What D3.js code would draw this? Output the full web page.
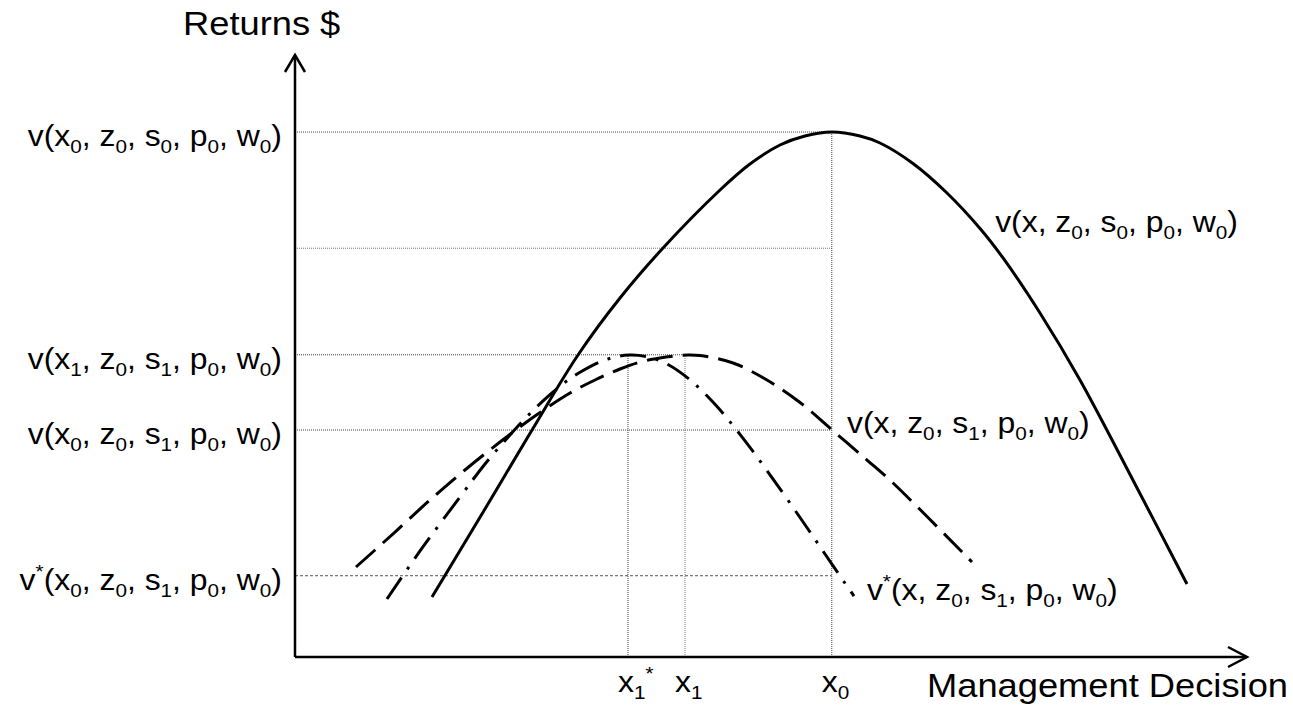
<!DOCTYPE html>
<html>
<head>
<meta charset="utf-8">
<script src="https://cdn.jsdelivr.net/npm/d3@7"></script>
<style>
  body { margin: 0; background: #fff; }
  text { font-family: "Liberation Sans", Arial, sans-serif; fill: #000; }
</style>
</head>
<body>
<script>
// curves, in chart units (x = management decision, y = returns)
var curveS0 = [[14.42, 9.97], [19.68, 23.75], [24.95, 37.71], [29.79, 50.17], [34.21, 59.63],
  [38.74, 67.94], [44.74, 77.57], [47.89, 81.89], [51.05, 85.05], [53.68, 86.54], [56.53, 87.21],
  [59.47, 86.54], [61.58, 85.38], [65.05, 81.98], [68.63, 77.08], [72.11, 71.18], [74.53, 66.28],
  [78.42, 57.14], [82.63, 46.01], [88.42, 28.74], [93.89, 12.13]];
var curveS1 = [[6.42, 14.95], [10.53, 20.76], [14.21, 26.08], [17.89, 31.06], [21.58, 35.71],
  [25.26, 40.03], [28.95, 43.85], [31.58, 46.01], [34.21, 47.84], [36.32, 49.0], [38.42, 49.67],
  [40.0, 50.0], [41.37, 50.17], [42.63, 50.08], [46.11, 48.84], [49.68, 46.01], [53.16, 42.28],
  [56.53, 37.71], [60.21, 32.72], [62.95, 28.9], [71.26, 15.78]];
var curveStar = [[9.68, 9.63], [13.16, 17.61], [17.37, 26.58], [20.0, 32.06], [22.63, 36.88],
  [24.74, 40.45], [26.84, 43.57], [28.42, 45.63], [30.0, 47.29], [32.63, 49.34], [35.16, 50.17],
  [37.37, 49.78], [39.26, 48.59], [41.58, 46.03], [44.21, 41.98], [46.84, 36.99], [50.0, 30.27],
  [53.16, 23.17], [55.79, 17.11], [58.42, 11.05], [58.84, 10.13]];

// reference levels on the returns axis
var yLevels = [87.2, 67.9, 50.2, 37.7, 13.5];
var yLevelEnds = [56.5, 56.5, 41.05, 56.5, 56.5];
var yLabels = ["v(x_0, z_0, s_0, p_0, w_0)", "", "v(x_1, z_0, s_1, p_0, w_0)",
  "v(x_0, z_0, s_1, p_0, w_0)", "v^*(x_0, z_0, s_1, p_0, w_0)"];

// decisions on the x axis
var xMarks = [35.05, 41.05, 56.5];
var xMarkTops = [50.2, 50.2, 87.2];
var xLabels = ["x_1^*", "x_1", "x_0"];

var curveLabels = ["v(x, z_0, s_0, p_0, w_0)", "v(x, z_0, s_1, p_0, w_0)", "v^*(x, z_0, s_1, p_0, w_0)"];
var curveLabelAt = [[73.7, 70.6], [58.1, 37.2], [60.2, 9.5]];

var W = 1293, H = 710;
var ox = 295, oy = 657;
var fs = 29, stretch = 1.1;

var svg = d3.select("body").append("svg")
  .attr("width", W)
  .attr("height", H);

var x = d3.scaleLinear().domain([0, 100]).range([ox, 1245]);
var y = d3.scaleLinear().domain([0, 100]).range([oy, 55]);

// text with _ subscripts and ^ superscripts
function richText(t, str, size) {
  var off = 0, i = 0;
  while (i < str.length) {
    var c = str[i];
    if (c === "_" || c === "^") {
      var target = c === "_" ? size * 0.25 : -size * 0.42;
      t.append("tspan").attr("dy", target - off).style("font-size", (size * 0.65) + "px").text(str[i + 1]);
      off = target;
      i += 2;
    } else {
      var j = i;
      while (j < str.length && str[j] !== "_" && str[j] !== "^") j++;
      t.append("tspan").attr("dy", -off).style("font-size", size + "px").text(str.slice(i, j));
      off = 0;
      i = j;
    }
  }
}

function label(px, py, str, size, anchor) {
  var t = svg.append("text")
    .attr("transform", "translate(" + px + "," + py + ") scale(" + stretch + ",1)")
    .attr("text-anchor", anchor)
    .style("font-size", size + "px");
  richText(t, str, size);
}

// guide lines
yLevels.forEach(function (v, i) {
  svg.append("line")
    .attr("x1", x(0)).attr("x2", x(yLevelEnds[i]))
    .attr("y1", y(v)).attr("y2", y(v))
    .attr("stroke", i == 4 ? "#555" : (i == 1 ? "#777" : "#444"))
    .attr("stroke-width", 1)
    .attr("stroke-dasharray", i == 4 ? "3,2" : "1,1");
  if (yLabels[i]) label(ox - 13, y(v) + 14, yLabels[i], fs, "end");
});
xMarks.forEach(function (v, i) {
  svg.append("line")
    .attr("x1", x(v)).attr("x2", x(v))
    .attr("y1", y(0)).attr("y2", y(xMarkTops[i]))
    .attr("stroke", i == 1 ? "#777" : "#444")
    .attr("stroke-width", 1)
    .attr("stroke-dasharray", "1,1");
  label(x(v) - 10, oy + 35, xLabels[i], fs, "start");
});

// curves
var line = d3.line()
  .x(function (d) { return x(d[0]); })
  .y(function (d) { return y(d[1]); })
  .curve(d3.curveCatmullRom.alpha(0.5));

svg.append("path").datum(curveS0)
  .attr("d", line).attr("fill", "none").attr("stroke", "#000").attr("stroke-width", 3);
svg.append("path").datum(curveS1)
  .attr("d", line).attr("fill", "none").attr("stroke", "#000").attr("stroke-width", 3)
  .attr("stroke-dasharray", "26,10");
svg.append("path").datum(curveStar)
  .attr("d", line).attr("fill", "none").attr("stroke", "#000").attr("stroke-width", 3)
  .attr("stroke-dasharray", "26,10,3,10");

curveLabels.forEach(function (s, i) {
  label(x(curveLabelAt[i][0]), y(curveLabelAt[i][1]), s, fs, "start");
});

// axes with open arrow heads
svg.append("line").attr("x1", ox).attr("y1", oy).attr("x2", ox).attr("y2", y(100))
  .attr("stroke", "#000").attr("stroke-width", 2.5);
svg.append("line").attr("x1", ox).attr("y1", oy).attr("x2", x(100) + 2).attr("y2", oy)
  .attr("stroke", "#000").attr("stroke-width", 2.5);
svg.append("path")
  .attr("d", "M" + (ox - 10) + "," + (y(100) + 17) + "L" + ox + "," + y(100) + "L" + (ox + 10) + "," + (y(100) + 17))
  .attr("fill", "none").attr("stroke", "#000").attr("stroke-width", 2.5);
svg.append("path")
  .attr("d", "M" + (x(100) - 17) + "," + (oy - 10) + "L" + (x(100) + 2) + "," + oy + "L" + (x(100) - 17) + "," + (oy + 10))
  .attr("fill", "none").attr("stroke", "#000").attr("stroke-width", 2.5);

label(ox - 112, 35, "Returns $", 33, "start");
label(1288, 697, "Management Decision", 33, "end");
</script>
</body>
</html>
